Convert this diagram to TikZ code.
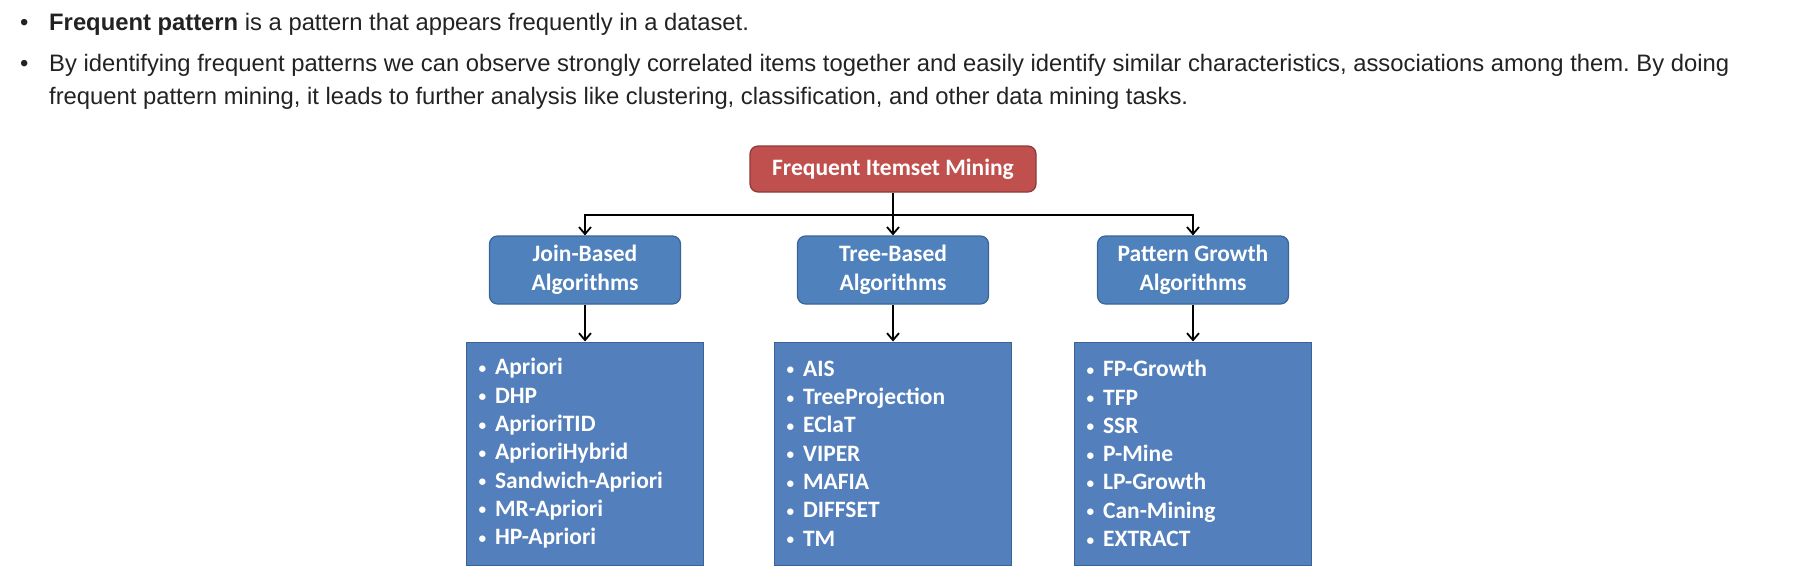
\documentclass[tikz,border=0pt]{standalone}
\usepackage{fontspec}
\setmainfont{Liberation Sans}
\newfontfamily\calib{Carlito}
\usetikzlibrary{arrows.meta}
\definecolor{txt}{HTML}{222222}
\definecolor{redf}{HTML}{C0504D}
\definecolor{redd}{HTML}{8C3A38}
\definecolor{bluef}{HTML}{4F81BD}
\definecolor{blued}{HTML}{3A6496}
\definecolor{listf}{HTML}{537FBC}
\newcommand{\lb}{\raisebox{1.5pt}{\scalebox{0.65}{•}}\hspace{9pt}}
\begin{document}
\frenchspacing
\begin{tikzpicture}[x=1pt,y=-1pt,
  para/.style={anchor=base west, inner sep=0pt, text=txt, font=\fontsize{23.8}{28}\selectfont},
  topbox/.style={draw=redd, fill=redf, line width=1.2pt, rounded corners=8pt, minimum width=286pt, minimum height=46pt, text=white, font=\calib\bfseries\fontsize{23.5}{28}\selectfont},
  midbox/.style={draw=blued, fill=bluef, line width=1.2pt, rounded corners=8pt, minimum width=191pt, minimum height=68pt, text=white, align=center, font=\calib\bfseries\fontsize{23.5}{29}\selectfont},
  listbox/.style={draw=blued, fill=listf, line width=1pt, minimum width=237pt, minimum height=223pt, text width=213pt, inner xsep=12pt, text=white, align=left, font=\calib\bfseries\fontsize{23.5}{28.3}\selectfont},
  arr/.style={draw=black, line width=2.2pt, -{Straight Barb[length=7pt,width=12pt,line width=1.8pt]}}
]
\useasboundingbox (0,0) rectangle (1800,586);
% paragraph
\node[para] (b1) at (20,31) {\textbullet};
\node[para] (l1) at (49,31) {\textbf{Frequent pattern} is a pattern that appears frequently in a dataset.};
\node[para] (b2) at (20,72) {\textbullet};
\node[para] (l2) at (49,72) {By identifying frequent patterns we can observe strongly correlated items together and easily identify similar characteristics, associations among them. By doing};
\node[para] (l3) at (49,105) {frequent pattern mining, it leads to further analysis like clustering, classification, and other data mining tasks.};
% diagram
\node[topbox] (top) at (893,169) {Frequent Itemset Mining};
\node[midbox] (join) at (585,270) {Join-Based\\Algorithms};
\node[midbox] (tree) at (893,270) {Tree-Based\\Algorithms};
\node[midbox] (pat) at (1193,270) {Pattern Growth\\Algorithms};
\node[listbox] (jl) at (585,453.5) {\lb Apriori\\\lb DHP\\\lb AprioriTID\\\lb AprioriHybrid\\\lb Sandwich-Apriori\\\lb MR-Apriori\\\lb HP-Apriori};
\node[listbox] (tl) at (893,453.5) {\lb AIS\\\lb TreeProjection\\\lb EClaT\\\lb VIPER\\\lb MAFIA\\\lb DIFFSET\\\lb TM};
\node[listbox] (pl) at (1193,453.5) {\lb FP-Growth\\\lb TFP\\\lb SSR\\\lb P-Mine\\\lb LP-Growth\\\lb Can-Mining\\\lb EXTRACT};
\coordinate (bus) at (893,215);
\draw[arr] (top) -- (tree);
\draw[arr] (top.south |- bus) -| (join.north);
\draw[arr] (top.south |- bus) -| (pat.north);
\draw[arr] (join) -- (jl);
\draw[arr] (tree) -- (tl);
\draw[arr] (pat) -- (pl);
\end{tikzpicture}
\end{document}
